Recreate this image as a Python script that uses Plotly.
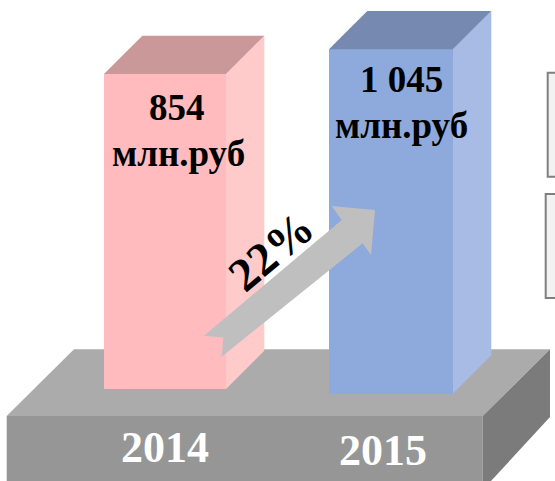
import plotly.graph_objects as go

# ---- data ----
years = ["2014", "2015"]
revenue = [854, 1045]            # млн.руб
value_labels = ["854", "1 045"]
unit_label = "млн.руб"
growth_label = "22%"

# ---- layout constants (pixels of a 555x481 canvas) ----
W, H = 555, 481
BAR_X = [165, 391]               # centre of each bar front (x axis = pixel columns)
BAR_W = [122, 124]
BAR_BOTTOM_PX = [389, 393.5]     # where each bar meets the platform
DEPTH = 38.3                     # 3-D depth offset (px, 45 degrees)
# value axis: 854 -> row 74, 1045 -> row 49.3
K = (74 - 49.3) / (1045 - 854)   # px per value unit
ZERO_PX = 74 + 854 * K
Y_MAX = ZERO_PX / K
Y_MIN = (ZERO_PX - H) / K

def vy(py):
    return (ZERO_PX - py) / K

def px(x, y):
    return x / W, 1 - y / H

FRONT = ["#FFBBBD", "#8EAADC"]
SIDE = ["#FFCACA", "#A7BBE4"]
TOP = ["#CA9898", "#7589B1"]

fig = go.Figure()

bases = [vy(b) for b in BAR_BOTTOM_PX]
dv = DEPTH / K
for i, v in enumerate(revenue):
    x0 = BAR_X[i] - BAR_W[i] / 2
    x1 = BAR_X[i] + BAR_W[i] / 2
    # side face
    fig.add_trace(go.Scatter(
        x=[x1, x1 + DEPTH, x1 + DEPTH, x1, x1],
        y=[v, v + dv, bases[i] + dv, bases[i], v],
        fill="toself", fillcolor=SIDE[i], mode="lines",
        line=dict(width=0), hoverinfo="skip"))
    # top face
    fig.add_trace(go.Scatter(
        x=[x0, x0 + DEPTH, x1 + DEPTH, x1, x0],
        y=[v, v + dv, v + dv, v, v],
        fill="toself", fillcolor=TOP[i], mode="lines",
        line=dict(width=0), hoverinfo="skip"))

# front faces
fig.add_trace(go.Bar(
    x=BAR_X, y=[v - b for v, b in zip(revenue, bases)], base=bases,
    width=BAR_W, marker=dict(color=FRONT, line=dict(width=0)),
    hoverinfo="skip"))

shapes = []

def poly(points, color, layer="below", line=None):
    d = "M " + " L ".join("%.5f,%.5f" % px(x, y) for x, y in points) + " Z"
    s = dict(type="path", xref="paper", yref="paper", path=d,
             fillcolor=color, layer=layer, line=dict(width=0))
    if line:
        s["line"] = line
    shapes.append(s)

# platform
poly([(6.7, 416), (74, 349.3), (550, 349.3), (482.7, 416)], "#ABABAB")
poly([(6.7, 416), (482.7, 416), (482.7, 490), (6.7, 490)], "#969696")
poly([(482.7, 416), (550, 349.3), (550, 417), (482.7, 490)], "#7B7B7B")

# growth arrow
poly([(204, 335.7), (341.7, 220), (331.7, 206), (375, 210), (371, 255),
      (362.7, 243.3), (221.7, 356.7), (223.3, 337.4)], "#BFBFBF", layer="above")

# legend boxes on the right edge (cut off)
for (xl, yt, yb) in [(547.7, 72.7, 176.7), (545.7, 194, 298)]:
    shapes.append(dict(type="rect", xref="paper", yref="paper",
                       x0=xl / W, x1=(W + 20) / W, y0=1 - yb / H, y1=1 - yt / H,
                       fillcolor="#F2F2F2", line=dict(color="#7F7F7F", width=2),
                       layer="above"))

annotations = []
SERIF = "Liberation Serif"
NUM_SHIFT = [-33.5, -30]
UNIT_SHIFT = [-79, -76]
NUM_DX = [12, 10]
UNIT_DX = [13, 10]
for i, v in enumerate(revenue):
    annotations.append(dict(x=BAR_X[i] + NUM_DX[i], y=v, xref="x", yref="y",
                            text="<b>%s</b>" % value_labels[i], showarrow=False,
                            yanchor="middle", yshift=NUM_SHIFT[i],
                            font=dict(family=SERIF, size=37, color="black")))
    annotations.append(dict(x=BAR_X[i] + UNIT_DX[i], y=v, xref="x", yref="y",
                            text="<b>%s</b>" % unit_label, showarrow=False,
                            yanchor="middle", yshift=UNIT_SHIFT[i],
                            font=dict(family=SERIF, size=37, color="black")))

YEAR_X = [164.5, 383]
YEAR_Y = [447.5, 450]
for i, yr in enumerate(years):
    xp, yp = px(YEAR_X[i], YEAR_Y[i])
    annotations.append(dict(x=xp, y=yp, xref="paper", yref="paper",
                            text="<b>%s</b>" % yr, showarrow=False,
                            xanchor="center", yanchor="middle",
                            font=dict(family=SERIF, size=44, color="white")))

gx, gy = px(271, 251)
annotations.append(dict(x=gx, y=gy, xref="paper", yref="paper",
                        text="<b>%s</b>" % growth_label, showarrow=False,
                        textangle=-40, xanchor="center", yanchor="middle",
                        font=dict(family=SERIF, size=47, color="black")))

fig.update_layout(
    width=W, height=H, margin=dict(l=0, r=0, t=0, b=0),
    paper_bgcolor="white", plot_bgcolor="white", showlegend=False,
    xaxis=dict(range=[0, W], visible=False, fixedrange=True),
    yaxis=dict(range=[Y_MIN, Y_MAX], visible=False, fixedrange=True),
    shapes=shapes, annotations=annotations, bargap=0)

fig.write_html("out.html", config={"displayModeBar": False},
               post_script="document.body.style.margin='0';document.body.style.overflow='hidden';")
